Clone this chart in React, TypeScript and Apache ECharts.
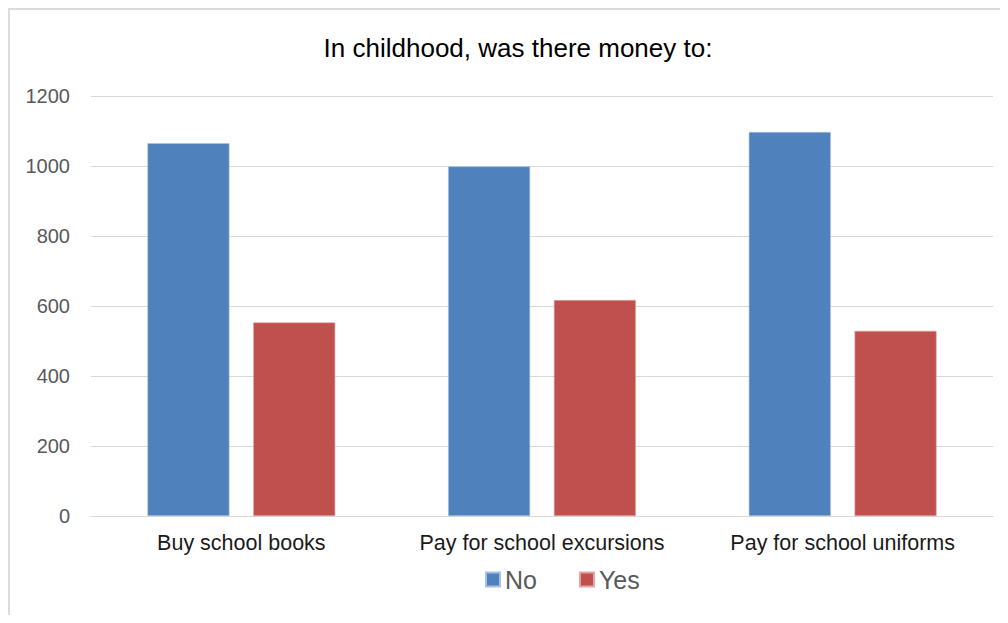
import React, { useEffect, useRef } from "react";
import * as echarts from "echarts";

const categories = ["Buy school books", "Pay for school excursions", "Pay for school uniforms"];
const noValues = [1065, 999, 1097];
const yesValues = [553, 617, 529];
const seriesNames = ["No", "Yes"];
const titleText = "In childhood, was there money to:";

const FONT = "'Liberation Sans', Arial, sans-serif";

export default function App() {
  const ref = useRef<HTMLDivElement>(null);
  useEffect(() => {
    if (!ref.current) return;
    const chart = echarts.init(ref.current, undefined, { renderer: "svg" });
    chart.setOption({
      animation: false,
      backgroundColor: "#ffffff",
      title: {
        text: titleText,
        left: 503,
        textAlign: "center",
        top: 20,
        textStyle: { fontFamily: FONT, fontSize: 26, fontWeight: "normal", color: "#000000" },
      },
      legend: {
        data: seriesNames,
        left: 470,
        top: 552,
        itemWidth: 14,
        itemHeight: 14,
        itemGap: 42,
        icon: "rect",
        textStyle: { fontFamily: FONT, fontSize: 25, color: "#595959" },
      },
      grid: { left: 81, right: 15, top: 86, bottom: 99, containLabel: false },
      xAxis: {
        type: "category",
        data: categories,
        axisLine: { show: true, lineStyle: { color: "#d9d9d9", width: 1 } },
        axisTick: { show: false },
        axisLabel: { interval: 0, fontFamily: FONT, fontSize: 21.5, color: "#1a1a1a", margin: 16 },
      },
      yAxis: {
        type: "value",
        min: 0,
        max: 1200,
        interval: 200,
        axisLine: { show: false },
        axisTick: { show: false },
        splitLine: { lineStyle: { color: "#d9d9d9", width: 1 } },
        axisLabel: {
          fontFamily: FONT,
          fontSize: 20,
          color: "#595959",
          margin: 21,
          formatter: (v: number) => String(v),
        },
      },
      series: [
        {
          name: seriesNames[0],
          type: "bar",
          data: noValues,
          barWidth: 82,
          barGap: "29%",
          itemStyle: { color: "#4F81BD", borderColor: "#a9c1e0", borderWidth: 0.6 },
        },
        {
          name: seriesNames[1],
          type: "bar",
          data: yesValues,
          barWidth: 82,
          barGap: "29%",
          itemStyle: { color: "#C0504D", borderColor: "#e2a5a3", borderWidth: 0.6 },
        },
      ],
    });
    return () => chart.dispose();
  }, []);
  return (
    <div
      style={{
        width: 1000,
        height: 607,
        boxSizing: "border-box",
        borderTop: "2px solid #dcdcdc",
        borderLeft: "2px solid #dcdcdc",
        background: "#fff",
      }}
    >
      <div ref={ref} style={{ width: 998, height: 605 }} />
    </div>
  );
}
